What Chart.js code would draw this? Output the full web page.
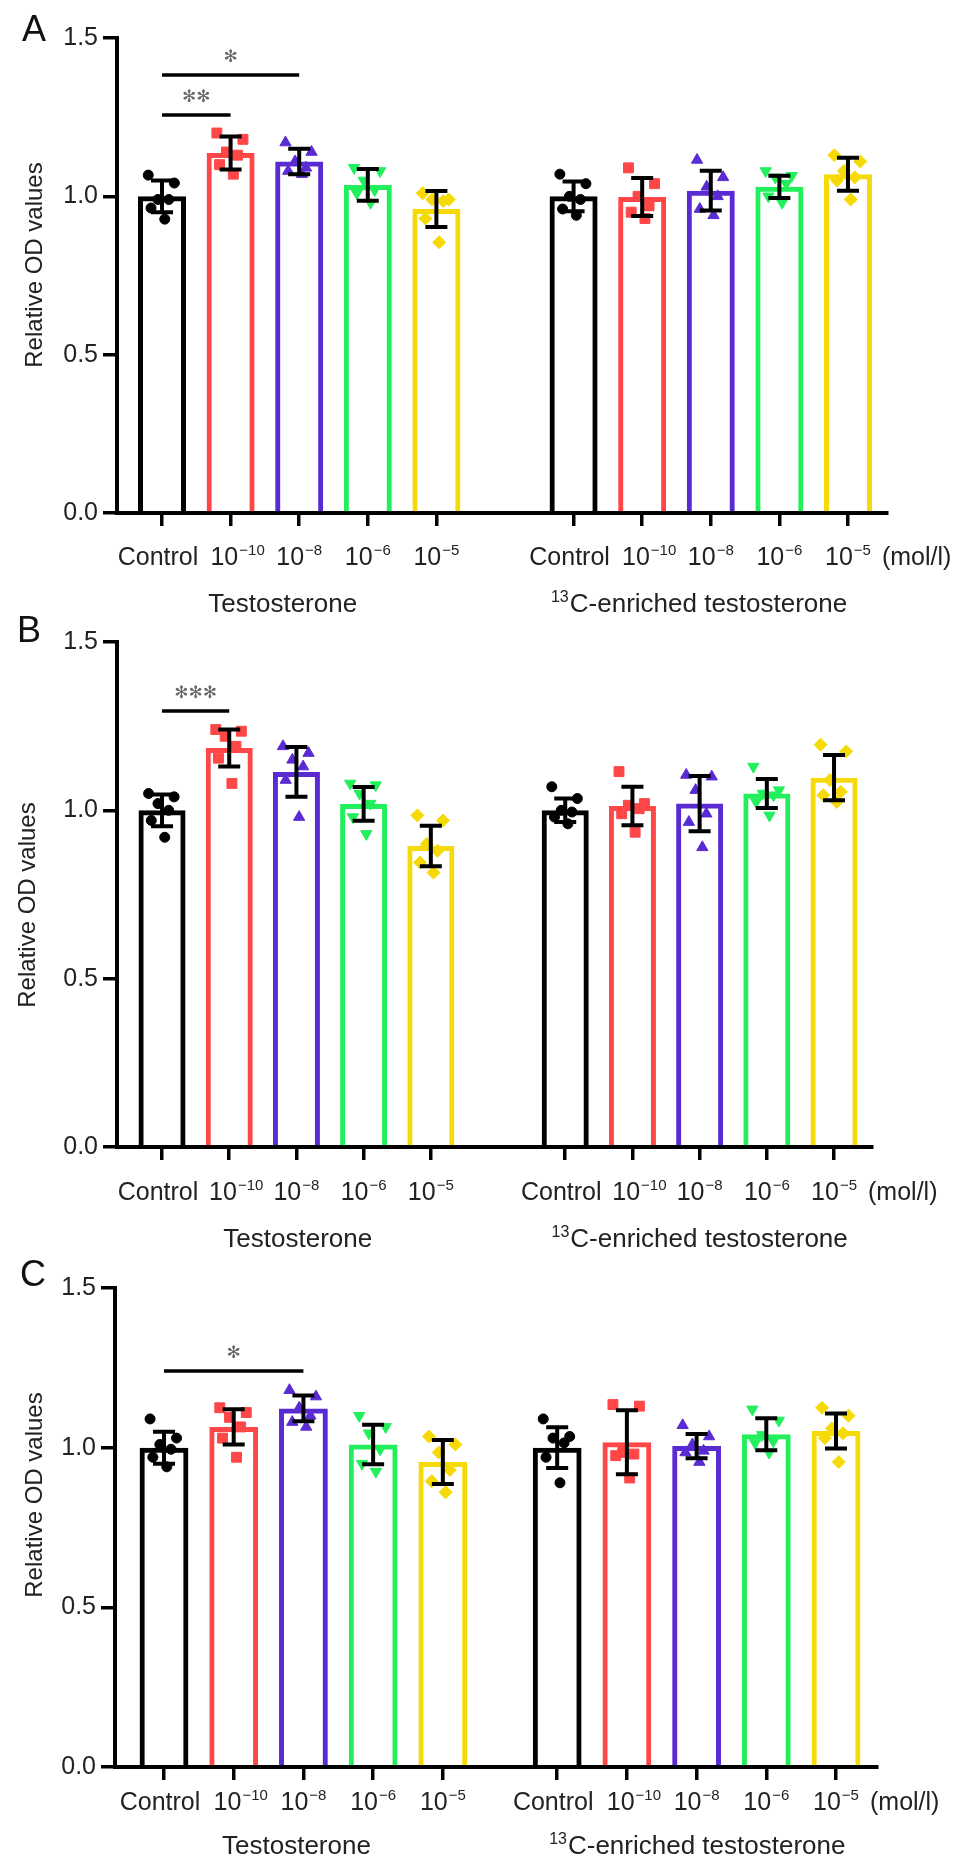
<!DOCTYPE html>
<html>
<head>
<meta charset="utf-8">
<script src="https://cdn.jsdelivr.net/npm/chart.js@4.4.1/dist/chart.umd.min.js"></script>
<style>
  body { margin: 0; background: #fff; width: 969px; height: 1867px; position: relative; overflow: hidden; }
  canvas { position: absolute; left: 0; }
</style>
</head>
<body>
<canvas id="panelA" width="969" height="616" style="top:0px;width:969px;height:616px"></canvas>
<canvas id="panelB" width="969" height="636" style="top:616px;width:969px;height:636px"></canvas>
<canvas id="panelC" width="969" height="615" style="top:1252px;width:969px;height:615px"></canvas>
<script>
// ---- data ----
const tickBase = ["Control", "10", "10", "10", "10"];
const tickExp = ["", "\u221210", "\u22128", "\u22126", "\u22125"];
const groupSup = ["", "13"];
const groupText = ["Testosterone", "C-enriched testosterone"];
const unitLabel = "(mol/l)";
const yTitle = "Relative OD values";

// order: Testosterone Control,1e-10,1e-8,1e-6,1e-5, then 13C Control,...
const meanA = [1.00, 1.137, 1.11, 1.036, 0.96, 1.00, 0.998, 1.018, 1.03, 1.07];
const sdA = [0.050, 0.052, 0.040, 0.050, 0.057, 0.047, 0.060, 0.063, 0.035, 0.052];
const pointsA = [
  [1.067, 1.042, 0.99, 0.99, 0.963, 0.928],
  [1.20, 1.18, 1.14, 1.13, 1.10, 1.07],
  [1.17, 1.14, 1.11, 1.09, 1.08, 1.07],
  [1.09, 1.08, 1.05, 1.02, 1.01, 0.98],
  [1.01, 0.99, 0.99, 0.985, 0.93, 0.855],
  [1.07, 1.04, 1.00, 0.99, 0.96, 0.94],
  [1.09, 1.04, 1.00, 0.97, 0.95, 0.93],
  [1.115, 1.06, 1.03, 1.00, 0.96, 0.94],
  [1.08, 1.065, 1.06, 1.04, 1.00, 0.98],
  [1.13, 1.11, 1.08, 1.06, 1.05, 0.99]
];
const sigA = [
  { from: 0, to: 1, y: 1.257, text: "\u273B\u273B" },
  { from: 0, to: 2, y: 1.383, text: "\u273B" }
];

const meanB = [1.00, 1.185, 1.114, 1.019, 0.894, 1.00, 1.013, 1.02, 1.05, 1.097];
const sdB = [0.047, 0.055, 0.074, 0.050, 0.060, 0.035, 0.057, 0.082, 0.043, 0.067];
const pointsB = [
  [1.05, 1.04, 1.02, 1.00, 0.97, 0.92],
  [1.24, 1.235, 1.22, 1.19, 1.155, 1.08],
  [1.19, 1.17, 1.15, 1.13, 1.09, 0.98],
  [1.08, 1.075, 1.05, 1.02, 0.98, 0.93],
  [0.985, 0.97, 0.90, 0.88, 0.845, 0.815],
  [1.07, 1.035, 1.00, 0.995, 0.98, 0.96],
  [1.115, 1.02, 1.015, 1.005, 0.99, 0.935],
  [1.105, 1.10, 1.06, 0.99, 0.965, 0.89],
  [1.13, 1.06, 1.05, 1.045, 1.025, 0.985],
  [1.195, 1.175, 1.09, 1.055, 1.045, 1.025]
];
const sigB = [
  { from: 0, to: 1, y: 1.295, text: "\u273B\u273B\u273B" }
];

const meanC = [1.00, 1.065, 1.123, 1.01, 0.955, 1.00, 1.017, 1.005, 1.042, 1.052];
const sdC = [0.050, 0.055, 0.040, 0.062, 0.069, 0.064, 0.100, 0.038, 0.050, 0.055];
const pointsC = [
  [1.09, 1.03, 1.01, 0.995, 0.97, 0.94],
  [1.125, 1.11, 1.095, 1.065, 1.03, 0.97],
  [1.18, 1.16, 1.125, 1.10, 1.08, 1.065],
  [1.10, 1.065, 1.045, 0.995, 0.95, 0.925],
  [1.035, 1.01, 0.985, 0.93, 0.895, 0.86],
  [1.09, 1.035, 1.03, 1.015, 0.97, 0.89],
  [1.135, 1.13, 0.985, 0.98, 0.975, 0.905],
  [1.07, 1.035, 1.01, 0.99, 0.985, 0.955],
  [1.12, 1.085, 1.04, 1.02, 1.015, 0.985],
  [1.125, 1.10, 1.06, 1.045, 1.03, 0.955]
];
const sigC = [
  { from: 0, to: 2, y: 1.24, text: "\u273B" }
];

// ---- style ----
const FONT = "'Liberation Sans', Arial, Helvetica, sans-serif";
const TEXT = "#222";
const barColors = ["#000000", "#ff4747", "#5a2bd2", "#22ef5c", "#f6da08"];
const markStyles = ["circle", "rect", "triangle", "triangle", "rectRot"];
const markRotation = [0, 0, 0, 180, 0];
const markRadius = [5, 7, 6.5, 6.5, 6.5];
const JITTER = [-0.2, 0.18, -0.06, 0.1, -0.16, 0.04];
const labelNudge = [-4, 7, 0, 0, 0]; // px, keeps "Control" and 10^-10 apart

// layout of each panel (canvas coords)
const panels = [
  { id: "panelA", letter: "A", mean: meanA, sd: sdA, points: pointsA, sig: sigA,
    H: 616, area: { left: 117, right: 887, top: 38, bottom: 513 }, xMin: -0.656, xMax: 10.569, gap: 1,
    tickY: 565, groupY: 612, groupAt: [1.76, 7.83], letterX: 22, letterY: 41, titleX: 42, titleY: 265 },
  { id: "panelB", letter: "B", mean: meanB, sd: sdB, points: pointsB, sig: sigB,
    H: 636, area: { left: 117, right: 872, top: 26, bottom: 531 }, xMin: -0.67, xMax: 10.565, gap: 1,
    tickY: 584, groupY: 631, groupAt: [2.02, 8.0], letterX: 17, letterY: 26, titleX: 35, titleY: 289 },
  { id: "panelC", letter: "C", mean: meanC, sd: sdC, points: pointsC, sig: sigC,
    H: 615, area: { left: 115, right: 877, top: 36, bottom: 515 }, xMin: -0.703, xMax: 10.228, gap: 0.64,
    tickY: 558, groupY: 602, groupAt: [1.9, 7.65], letterX: 20, letterY: 34, titleX: 42, titleY: 243 }
];

function xPos(p, k) {
  const g = Math.floor(k / 5);
  return g * (5 + p.gap) + (k % 5);
}

// text with an optional superscript before or after the base
function richText(ctx, cx, baseY, pre, base, post, size, supSize) {
  ctx.font = supSize + "px " + FONT;
  const wPre = pre ? ctx.measureText(pre).width + 1 : 0;
  const wPost = post ? ctx.measureText(post).width + 1 : 0;
  ctx.font = size + "px " + FONT;
  const wBase = ctx.measureText(base).width;
  let x0 = cx - (wPre + wBase + wPost) / 2;
  ctx.textAlign = "left";
  ctx.textBaseline = "alphabetic";
  if (pre) {
    ctx.font = supSize + "px " + FONT;
    ctx.fillText(pre, x0, baseY - 10);
    x0 += wPre;
  }
  ctx.font = size + "px " + FONT;
  ctx.fillText(base, x0, baseY);
  x0 += wBase + 1;
  if (post) {
    ctx.font = supSize + "px " + FONT;
    ctx.fillText(post, x0, baseY - 10);
  }
}

function decor(p) {
  return {
    id: "decor" + p.letter,
    afterDatasetsDraw(chart) {
      const ctx = chart.ctx, xs = chart.scales.x, ys = chart.scales.y;
      ctx.save();
      ctx.strokeStyle = "#000";
      ctx.lineWidth = 4;
      p.mean.forEach((m, k) => {
        const cx = xs.getPixelForValue(xPos(p, k));
        const top = ys.getPixelForValue(m + p.sd[k]);
        const bot = ys.getPixelForValue(m - p.sd[k]);
        ctx.beginPath();
        ctx.moveTo(cx, top); ctx.lineTo(cx, bot);
        ctx.moveTo(cx - 11, top); ctx.lineTo(cx + 11, top);
        ctx.moveTo(cx - 11, bot); ctx.lineTo(cx + 11, bot);
        ctx.stroke();
      });
      ctx.restore();
    },
    afterDraw(chart) {
      const ctx = chart.ctx, xs = chart.scales.x, ys = chart.scales.y;
      ctx.save();
      // significance bars
      p.sig.forEach(s => {
        const x1 = xs.getPixelForValue(xPos(p, s.from));
        const x2 = xs.getPixelForValue(xPos(p, s.to));
        const yy = ys.getPixelForValue(s.y);
        ctx.strokeStyle = "#000";
        ctx.lineWidth = 3.5;
        ctx.beginPath();
        ctx.moveTo(x1, yy); ctx.lineTo(x2, yy);
        ctx.stroke();
        ctx.fillStyle = "#666";
        ctx.font = "17px 'DejaVu Sans', sans-serif";
        ctx.textAlign = "center";
        ctx.textBaseline = "middle";
        ctx.fillText(s.text, (x1 + x2) / 2, yy - 17);
      });
      // x tick labels
      ctx.fillStyle = TEXT;
      for (let k = 0; k < 10; k++) {
        const cx = xs.getPixelForValue(xPos(p, k)) + labelNudge[k % 5];
        richText(ctx, cx, p.tickY, "", tickBase[k % 5], tickExp[k % 5], 25, 15);
      }
      // unit after the last label
      ctx.font = "25px " + FONT;
      ctx.textAlign = "left";
      ctx.fillText(unitLabel, xs.getPixelForValue(xPos(p, 9)) + 34, p.tickY);
      // group labels
      for (let g = 0; g < 2; g++) {
        richText(ctx, xs.getPixelForValue(p.groupAt[g]), p.groupY, groupSup[g], groupText[g], "", 26, 16);
      }
      // panel letter
      ctx.font = "36px " + FONT;
      ctx.textAlign = "left";
      ctx.textBaseline = "alphabetic";
      ctx.fillStyle = "#111";
      ctx.fillText(p.letter, p.letterX, p.letterY);
      // y axis title
      ctx.translate(p.titleX, p.titleY);
      ctx.rotate(-Math.PI / 2);
      ctx.font = "24px " + FONT;
      ctx.fillStyle = TEXT;
      ctx.textAlign = "center";
      ctx.fillText(yTitle, 0, 0);
      ctx.restore();
    }
  };
}

function drawPanel(p) {
  const bars = p.mean.map((m, k) => ({ x: xPos(p, k), y: m }));
  const pts = [], ptColor = [], ptStyle = [], ptRot = [], ptRad = [];
  p.points.forEach((vals, k) => {
    vals.forEach((v, j) => {
      pts.push({ x: xPos(p, k) + JITTER[j], y: v });
      ptColor.push(barColors[k % 5]);
      ptStyle.push(markStyles[k % 5]);
      ptRot.push(markRotation[k % 5]);
      ptRad.push(markRadius[k % 5]);
    });
  });
  const tickValues = p.mean.map((m, k) => xPos(p, k));

  new Chart(document.getElementById(p.id), {
    type: "bar",
    data: {
      datasets: [
        {
          type: "bar",
          data: bars,
          backgroundColor: "rgba(0,0,0,0)",
          borderColor: bars.map((b, k) => barColors[k % 5]),
          borderWidth: 5,
          borderSkipped: "start",
          barPercentage: 0.7,
          categoryPercentage: 1,
          order: 2
        },
        {
          type: "scatter",
          data: pts,
          pointBackgroundColor: ptColor,
          pointBorderColor: ptColor,
          pointBorderWidth: 1,
          pointStyle: ptStyle,
          pointRotation: ptRot,
          pointRadius: ptRad,
          order: 1
        }
      ]
    },
    options: {
      responsive: false,
      animation: false,
      devicePixelRatio: 1,
      layout: { padding: { left: 0, top: p.area.top, right: 969 - p.area.right, bottom: 0 } },
      plugins: { legend: { display: false }, tooltip: { enabled: false } },
      scales: {
        x: {
          type: "linear",
          min: p.xMin,
          max: p.xMax,
          offset: false,
          grid: { display: true, drawOnChartArea: false, drawTicks: true, offset: false,
                  tickLength: 13, tickWidth: 3.5, lineWidth: 3.5, color: "#000", tickColor: "#000" },
          border: { display: true, color: "#000", width: 4 },
          ticks: { autoSkip: false, callback: () => "" },
          afterBuildTicks: s => { s.ticks = tickValues.map(v => ({ value: v })); },
          afterFit: s => { s.height = p.H - p.area.bottom; }
        },
        y: {
          min: 0,
          max: 1.5,
          ticks: { stepSize: 0.5, callback: v => v.toFixed(1), color: TEXT, padding: 5,
                   font: { family: FONT, size: 25 } },
          grid: { drawOnChartArea: false, tickLength: 14, tickWidth: 3.5, lineWidth: 3.5,
                  color: "#000", tickColor: "#000" },
          border: { display: true, color: "#000", width: 4 },
          afterFit: s => { s.width = p.area.left; }
        }
      }
    },
    plugins: [decor(p)]
  });
}

panels.forEach(drawPanel);
</script>
</body>
</html>
